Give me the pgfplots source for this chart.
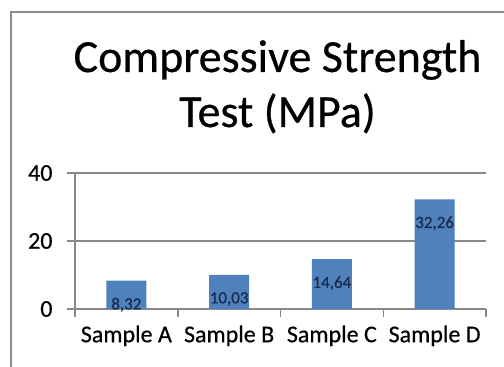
\documentclass[border=0pt]{standalone}
\usepackage{fontspec}
\setmainfont{Carlito}[FakeBold=0.5]
\usepackage{pgfplots}
\pgfplotsset{compat=1.18}
\definecolor{barblue}{HTML}{4F81BD}
\definecolor{axgray}{HTML}{888888}
\definecolor{framegray}{HTML}{8C8C8C}
\definecolor{lblnavy}{HTML}{1B2A4A}
\begin{document}
\begin{tikzpicture}[x=1pt,y=1pt]
\useasboundingbox (0pt,0pt) rectangle (504pt,367pt);
\fill[white] (0pt,0pt) rectangle (504pt,367pt);
\draw[framegray, line width=2pt] (11pt,-3pt) -- (11pt,355pt) -- (507pt,355pt);
\node[font=\fontsize{46}{55}\selectfont, anchor=base, inner sep=0pt] at (277.5pt,295pt) {Compressive Strength};
\node[font=\fontsize{46}{55}\selectfont, anchor=base, inner sep=0pt] at (277.5pt,240pt) {Test (MPa)};
\begin{axis}[
  at={(75pt,58pt)}, anchor=south west,
  scale only axis, width=411pt, height=136pt,
  xmin=-0.5, xmax=3.5, ymin=0, ymax=40,
  axis x line*=bottom, axis y line*=left,
  axis line style={axgray, line width=1.5pt},
  ytick={0,20,40},
  ymajorgrids,
  grid style={axgray, line width=1.5pt},
  tick align=outside,
  major tick length=8pt,
  tick style={axgray, line width=1.5pt},
  xtick={-0.5,0.5,1.5,2.5,3.5},
  xticklabels={},
  extra x ticks={0,1,2,3},
  extra x tick labels={Sample A,Sample B,Sample C,Sample D},
  extra x tick style={major tick length=0pt, grid=none},
  /pgf/number format/assume math mode=true,
  yticklabel style={font=\fontsize{24}{24}\selectfont, text=black, xshift=-11pt},
  xticklabel style={font=\fontsize{24}{24}\selectfont, text=black, yshift=-13pt},
  clip=false,
]
\addplot[ybar, bar width=40pt, fill=barblue, draw=none,
  point meta=y,
  nodes near coords={\pgfmathprintnumber[use comma, fixed, fixed zerofill, precision=2]{\pgfplotspointmeta}},
  every node near coord/.append style={anchor=center, yshift=-24pt, font=\fontsize{17}{17}\selectfont, text=lblnavy}]
  coordinates {(0,8.32) (1,10.03) (2,14.64) (3,32.26)};
\end{axis}
\end{tikzpicture}
\end{document}
